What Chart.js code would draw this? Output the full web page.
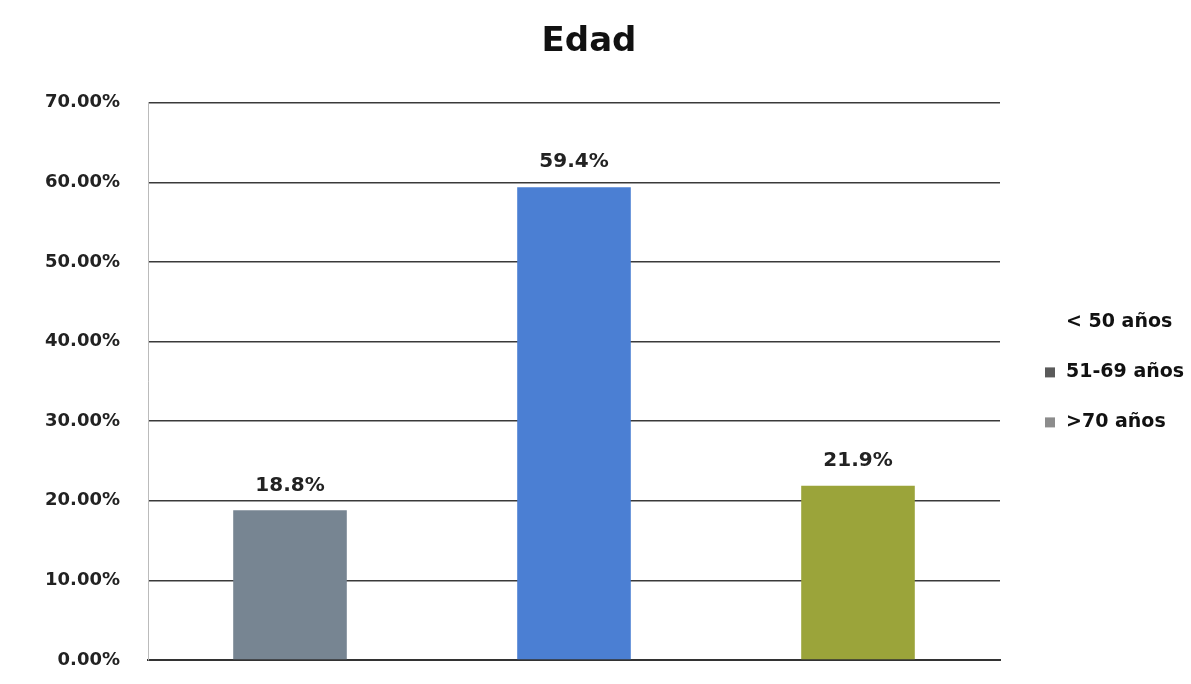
<!DOCTYPE html>
<html>
<head>
<meta charset="utf-8">
<script src="https://cdn.jsdelivr.net/npm/chart.js@4/dist/chart.umd.min.js"></script>
<style>
  html, body { margin: 0; padding: 0; background: #fff; }
  #wrap { width: 1191px; height: 684px; }
</style>
</head>
<body>
<div id="wrap"><canvas id="chart"></canvas></div>
<script>
// Data
const categories = ['< 50 años', '51-69 años', '>70 años'];
const values = [0.188, 0.594, 0.219];
const valueLabels = ['18.8%', '59.4%', '21.9%'];
const barColors = ['#778592', '#4b7fd3', '#9ba43a'];
const legendMarkers = [null, '#5a5a5a', '#8c8c8c'];

const FONT = '"DejaVu Sans", sans-serif';

// Value labels above bars
const barLabels = {
    id: 'barLabels',
    afterDatasetsDraw(chart) {
        const ctx = chart.ctx;
        const meta = chart.getDatasetMeta(0);
        ctx.save();
        ctx.font = 'bold 20px ' + FONT;
        ctx.fillStyle = '#222';
        ctx.textAlign = 'center';
        ctx.textBaseline = 'bottom';
        meta.data.forEach((bar, i) => {
            ctx.fillText(valueLabels[i], bar.x, bar.y - 15);
        });
        ctx.restore();
    }
};

// Legend on the right, beside the plot area
const sideLegend = {
    id: 'sideLegend',
    afterDraw(chart) {
        const ctx = chart.ctx;
        const area = chart.chartArea;
        const mid = (area.top + area.bottom) / 2;
        const x = area.right + 45;
        ctx.save();
        ctx.font = 'bold 19px ' + FONT;
        ctx.textBaseline = 'middle';
        categories.forEach((c, i) => {
            const y = mid - 59 + i * 50;
            if (legendMarkers[i]) {
                ctx.fillStyle = legendMarkers[i];
                ctx.fillRect(x, y - 5, 10, 10);
            }
            ctx.fillStyle = '#111';
            ctx.fillText(c, x + 21, y);
        });
        ctx.restore();
    }
};

const ctx = document.getElementById('chart').getContext('2d');
new Chart(ctx, {
    type: 'bar',
    data: {
        labels: categories,
        datasets: [{
            label: 'Edad',
            data: values,
            backgroundColor: barColors,
            borderWidth: 0,
            barPercentage: 0.4,
            categoryPercentage: 1.0
        }]
    },
    options: {
        responsive: true,
        maintainAspectRatio: false,
        animation: false,
        layout: { padding: { left: 0, right: 13, top: 10, bottom: 24 } },
        scales: {
            x: {
                grid: { display: false, drawTicks: false },
                border: { display: true, color: '#333', width: 2 },
                ticks: { display: false },
                afterFit: s => { s.height = 0; }
            },
            y: {
                min: 0,
                max: 0.7,
                ticks: {
                    stepSize: 0.1,
                    padding: 0,
                    color: '#222',
                    font: { family: FONT, size: 18, weight: 'bold' },
                    callback: v => (v * 100).toFixed(2) + '%'
                },
                grid: {
                    color: '#3a3a3a',
                    lineWidth: 1.5,
                    drawTicks: true,
                    tickLength: 28,
                    tickColor: 'rgba(0,0,0,0)'
                },
                border: { display: true, color: '#bbb', width: 1 },
                afterFit: s => { s.width = 148; }
            },
            yRight: {
                position: 'right',
                grid: { display: false, drawTicks: false },
                border: { display: false },
                ticks: { display: false },
                afterFit: s => { s.width = 178; }
            }
        },
        plugins: {
            title: {
                display: true,
                text: 'Edad',
                color: '#111',
                font: { family: FONT, size: 34, weight: 'bold' },
                padding: { top: 12, bottom: 40 }
            },
            legend: { display: false },
            tooltip: { enabled: false }
        }
    },
    plugins: [barLabels, sideLegend]
});
</script>
</body>
</html>
